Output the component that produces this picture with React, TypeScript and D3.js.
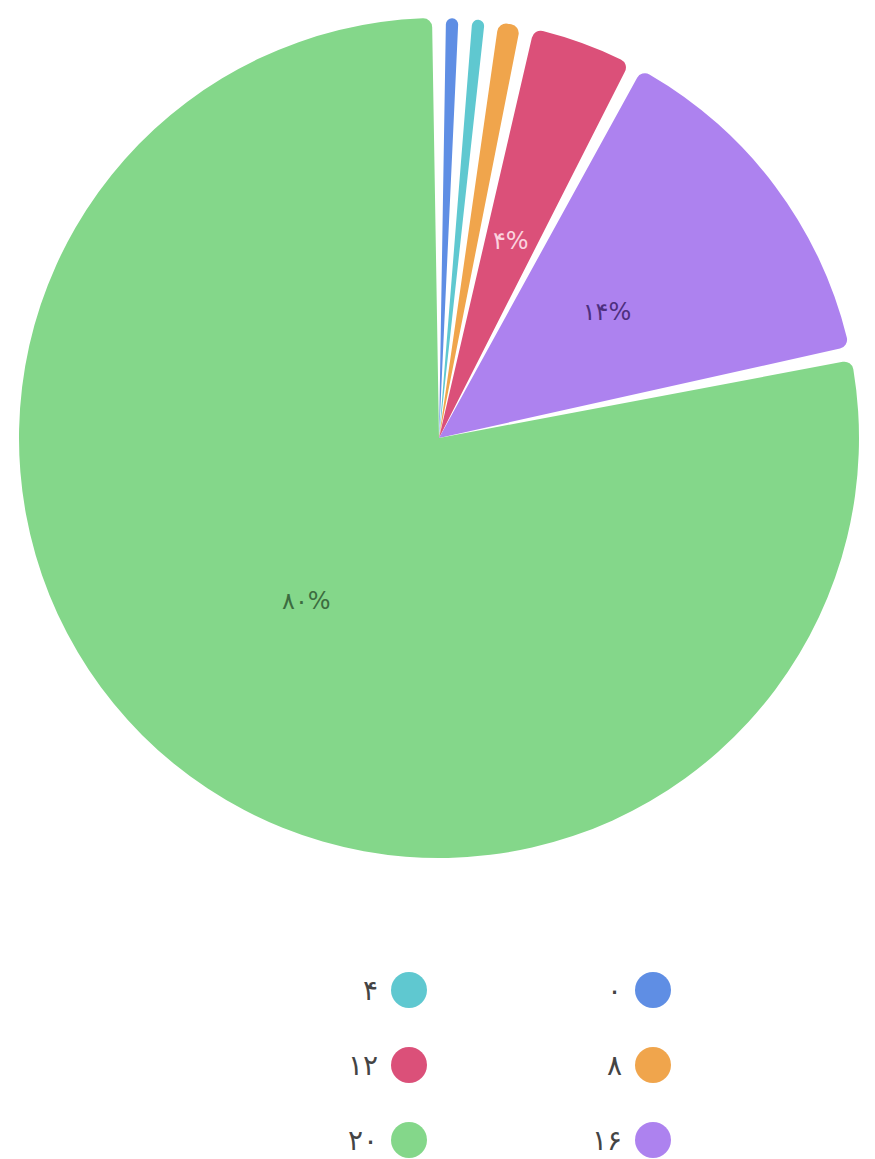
import React from "react";
import * as d3 from "d3";

const categories = ["۰", "۴", "۸", "۱۲", "۱۶", "۲۰"];
const values = [0.1, 0.3, 1.4, 4.49, 14.4, 80.3];
const colors = ["#5f8ee4", "#5fc8d0", "#f0a54c", "#db5079", "#ad82ef", "#84d78a"];
const labelColors = ["#2f4f8a", "#2f6f74", "#6e4a1e", "#fbd3df", "#4e2f7e", "#3c6c40"];
const legendOrder = [1, 0, 3, 2, 5, 4]; // RTL rows: left, right

const W = 875;
const H = 1159;
const cx = 439;
const cy = 438;
const R = 420;
const minAngleDeg = 3.6;
const padDeg = 1.9;

export default function App() {
  const total = d3.sum(values);
  const minA = (minAngleDeg * Math.PI) / 180;
  const isSmall = values.map((v) => (v / total) * 2 * Math.PI < minA);
  const nSmall = isSmall.filter(Boolean).length;
  const restSum = d3.sum(values.filter((_, i) => !isSmall[i]));
  const restAngle = 2 * Math.PI - nSmall * minA;
  const angles = values.map((v, i) => (isSmall[i] ? minA : (v / restSum) * restAngle));

  const pie = d3
    .pie<number>()
    .sort(null)
    .value((_, i) => angles[i]);
  const arcsData = pie(values);

  const arc = d3
    .arc<d3.PieArcDatum<number>>()
    .innerRadius(0)
    .outerRadius(R)
    .cornerRadius(9)
    .padAngle((padDeg * Math.PI) / 180);

  const labelArc = d3
    .arc<d3.PieArcDatum<number>>()
    .innerRadius(R / 2)
    .outerRadius(R / 2);

  const font = "'DejaVu Sans', 'Noto Sans', sans-serif";

  const legendX = d3.scaleOrdinal<number, number>().domain([0, 1]).range([409, 653]);
  const legendY = d3.scaleLinear().domain([0, 1]).range([990, 1065]);

  return (
    <svg
      width={W}
      height={H}
      style={{ position: "absolute", left: 0, top: 0, display: "block", background: "#fff" }}
    >
      <g transform={`translate(${cx},${cy})`}>
        {arcsData.map((d, i) => (
          <path key={i} d={arc(d) || ""} fill={colors[i]} />
        ))}
        {arcsData.map((d, i) => {
          const pct = Math.round((values[i] / total) * 100);
          if (pct < 3) return null;
          const [x, y] = labelArc.centroid(d);
          return (
            <text
              key={"l" + i}
              x={x}
              y={y}
              textAnchor="middle"
              dominantBaseline="central"
              fontFamily={font}
              fontSize={24}
              fill={labelColors[i]}
            >
              {d3.format("d")(pct).replace(/\d/g, (c) => "۰۱۲۳۴۵۶۷۸۹"[+c]) + "%"}
            </text>
          );
        })}
      </g>
      {legendOrder.map((idx, k) => {
        const col = k % 2;
        const row = Math.floor(k / 2);
        const x = legendX(col);
        const y = legendY(row);
        return (
          <g key={"lg" + k}>
            <circle cx={x} cy={y} r={18} fill={colors[idx]} />
            <text
              x={x - 31}
              y={y}
              textAnchor="end"
              dominantBaseline="central"
              fontFamily={font}
              fontSize={28}
              fill="#444"
            >
              {categories[idx]}
            </text>
          </g>
        );
      })}
    </svg>
  );
}
